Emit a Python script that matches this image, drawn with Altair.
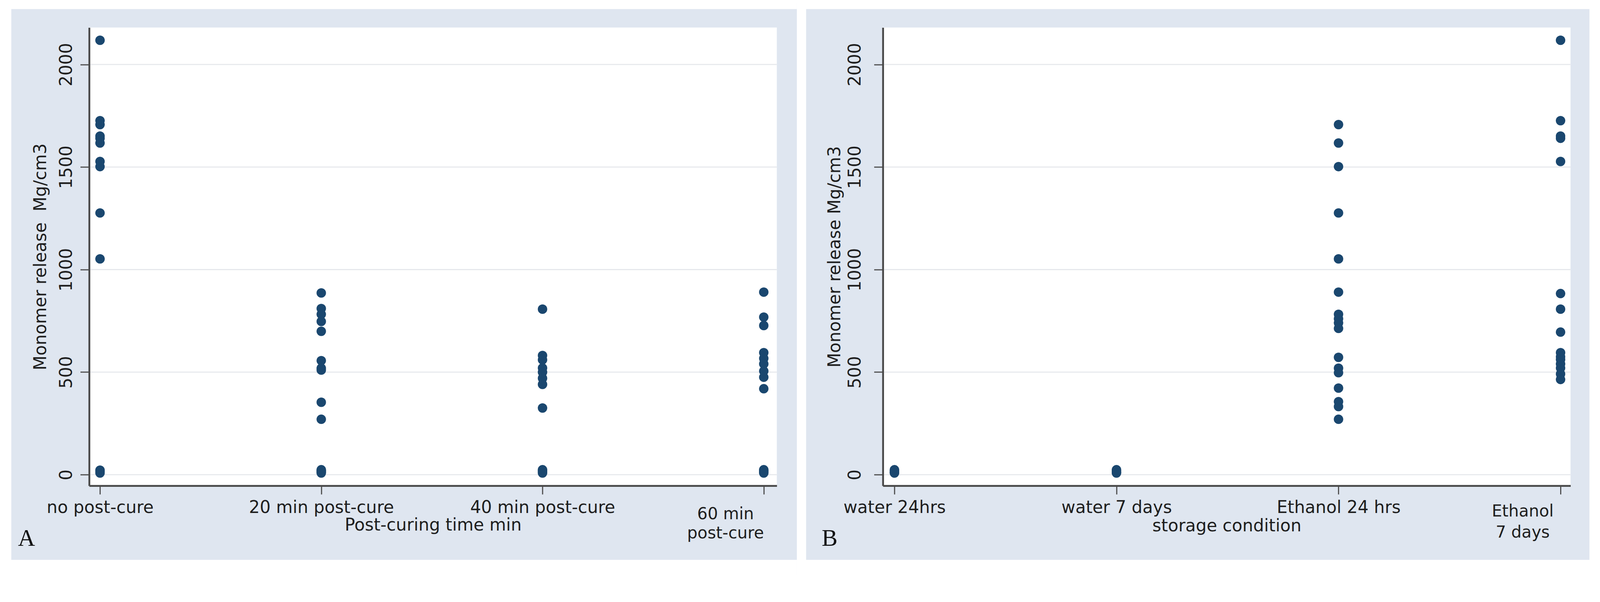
import json
import altair as alt
import pandas as pd

# ---------------- data ----------------
cats_a = ["no post-cure", "20 min post-cure", "40 min post-cure", "60 min\npost-cure"]
cats_b = ["water 24hrs", "water 7 days", "Ethanol 24 hrs", "Ethanol\n7 days"]

a_no = [2118, 1726, 1707, 1651, 1640, 1617, 1527, 1502, 1276, 1052, 22, 18, 15, 12, 8]
a_20 = [886, 810, 782, 747, 699, 556, 519, 510, 353, 270, 24, 20, 16, 12, 8]
a_40 = [807, 581, 560, 520, 500, 470, 440, 325, 24, 20, 16, 12, 8]
a_60 = [890, 768, 727, 595, 567, 540, 505, 475, 419, 24, 20, 16, 12, 8]

b_w24 = [24, 20, 16, 12, 10, 8]
b_w7 = [24, 20, 16, 12, 10, 8]
b_e24 = [1707, 1617, 1502, 1276, 1052, 890, 782, 760, 740, 713, 572, 519, 497, 422, 356, 332, 270]
b_e7 = [2118, 1726, 1651, 1640, 1527, 883, 807, 695, 595, 575, 561, 540, 520, 491, 464]

y_ticks = [0, 500, 1000, 1500, 2000]
x_ticks = [0, 1, 2, 3]

# ---------------- style ----------------
BG = "#dfe6f0"
NAVY = "#1a476f"
AX = "#4a4a4a"
GRID = "#e6e8ec"
TXT = "#1e1e1e"
FONT = "DejaVu Sans"
W, H = 1854, 1236


def make_df(groups):
    rows = []
    for i, vals in enumerate(groups):
        for v in vals:
            rows.append({"pos": i, "value": v})
    return pd.DataFrame(rows)


def strip(x1, x2, y1, y2):
    return alt.Chart(pd.DataFrame({"k": [0]})).mark_rect(color="white").encode(
        x=alt.value(x1), x2=alt.value(x2), y=alt.value(y1), y2=alt.value(y2))


def panel(groups, cats, xtitle, ytitle, letter, xdom, strips, ylabpad, ytitlex,
          xtitley, lasty, lastdx, lastlh, letterx):
    df = make_df(groups)
    xscale = alt.Scale(domain=xdom, nice=False, zero=False)
    yscale = alt.Scale(domain=[-54, 2180], nice=False, zero=False)

    lab_expr = json.dumps(cats[:3] + [""]) + "[datum.value]"

    common = dict(grid=False, domainColor=AX, domainWidth=5, tickColor=AX, tickWidth=3,
                  labelFont=FONT, labelFontSize=46, labelColor=TXT, labelLimit=0,
                  labelOverlap=False, labelFlush=False,
                  titleFont=FONT, titleFontSize=46, titleFontWeight="normal",
                  titleColor=TXT, titleLimit=0)
    xaxis = alt.Axis(values=x_ticks, labelExpr=lab_expr, title=xtitle, tickSize=23,
                     labelBaseline="alphabetic", labelAlign="center", labelPadding=50,
                     titleBaseline="alphabetic", titleY=xtitley, **common)
    yaxis = alt.Axis(values=y_ticks, format="d", title=ytitle, tickSize=24,
                     labelAngle=270, labelAlign="center", labelBaseline="alphabetic",
                     labelPadding=ylabpad, titleAngle=270, titleAlign="center",
                     titleBaseline="alphabetic", titleX=ytitlex, titleY=H / 2, **common)

    grid = alt.Chart(pd.DataFrame({"value": y_ticks})).mark_rule(color=GRID, strokeWidth=3).encode(
        y=alt.Y("value:Q", scale=yscale, axis=yaxis), x=alt.value(3), x2=alt.value(W))
    pts = alt.Chart(df).mark_circle(size=650, color=NAVY, opacity=1).encode(
        x=alt.X("pos:Q", scale=xscale, axis=xaxis),
        y=alt.Y("value:Q", scale=yscale, axis=yaxis))
    last = alt.Chart(pd.DataFrame({"pos": [3], "label": [cats[3]]})).mark_text(
        font=FONT, fontSize=44, color=TXT, align="center", baseline="alphabetic",
        dx=lastdx, lineBreak="\n", lineHeight=lastlh).encode(
        x=alt.X("pos:Q", scale=xscale, axis=xaxis), y=alt.value(lasty), text="label:N")
    let = alt.Chart(pd.DataFrame({"t": [letter]})).mark_text(
        font="Liberation Serif", fontSize=64, color="#111", align="left",
        baseline="alphabetic").encode(x=alt.value(letterx), y=alt.value(1398), text="t:N")
    layers = [strip(*s) for s in strips] + [grid, pts, last, let]
    return alt.layer(*layers).properties(width=W, height=H)


# white margins around each grey panel (plot-relative pixel coordinates)
strips_a = [(-232, -210, -66, 1476), (-232, 1908, -66, -50), (-232, 1908, 1436, 1476)]
strips_b = [(-232, -207, -66, 1476), (-232, 1925, -66, -50), (-232, 1925, 1436, 1476),
            (1905, 1925, -66, 1476)]

pa = panel([a_no, a_20, a_40, a_60], cats_a, "Post-curing time min",
           "Monomer release\u00a0 Mg/cm3", "A", [-0.049, 3.059], strips_a, 23, -117,
           120, 1326, -103, 52, -192)
pb = panel([b_w24, b_w7, b_e24, b_e7], cats_b, "storage condition",
           "Monomer release Mg/cm3", "B", [-0.052, 3.045], strips_b, 37, -116,
           123, 1319, -102, 57, -165)

chart = alt.hconcat(pa, pb, spacing=0).properties(
    padding={"top": -39, "bottom": -39, "left": 0, "right": 0},
    background=BG,
).configure_view(strokeWidth=0, fill="white")

chart.save("out.html", embed_options={"renderer": "svg", "actions": False})
